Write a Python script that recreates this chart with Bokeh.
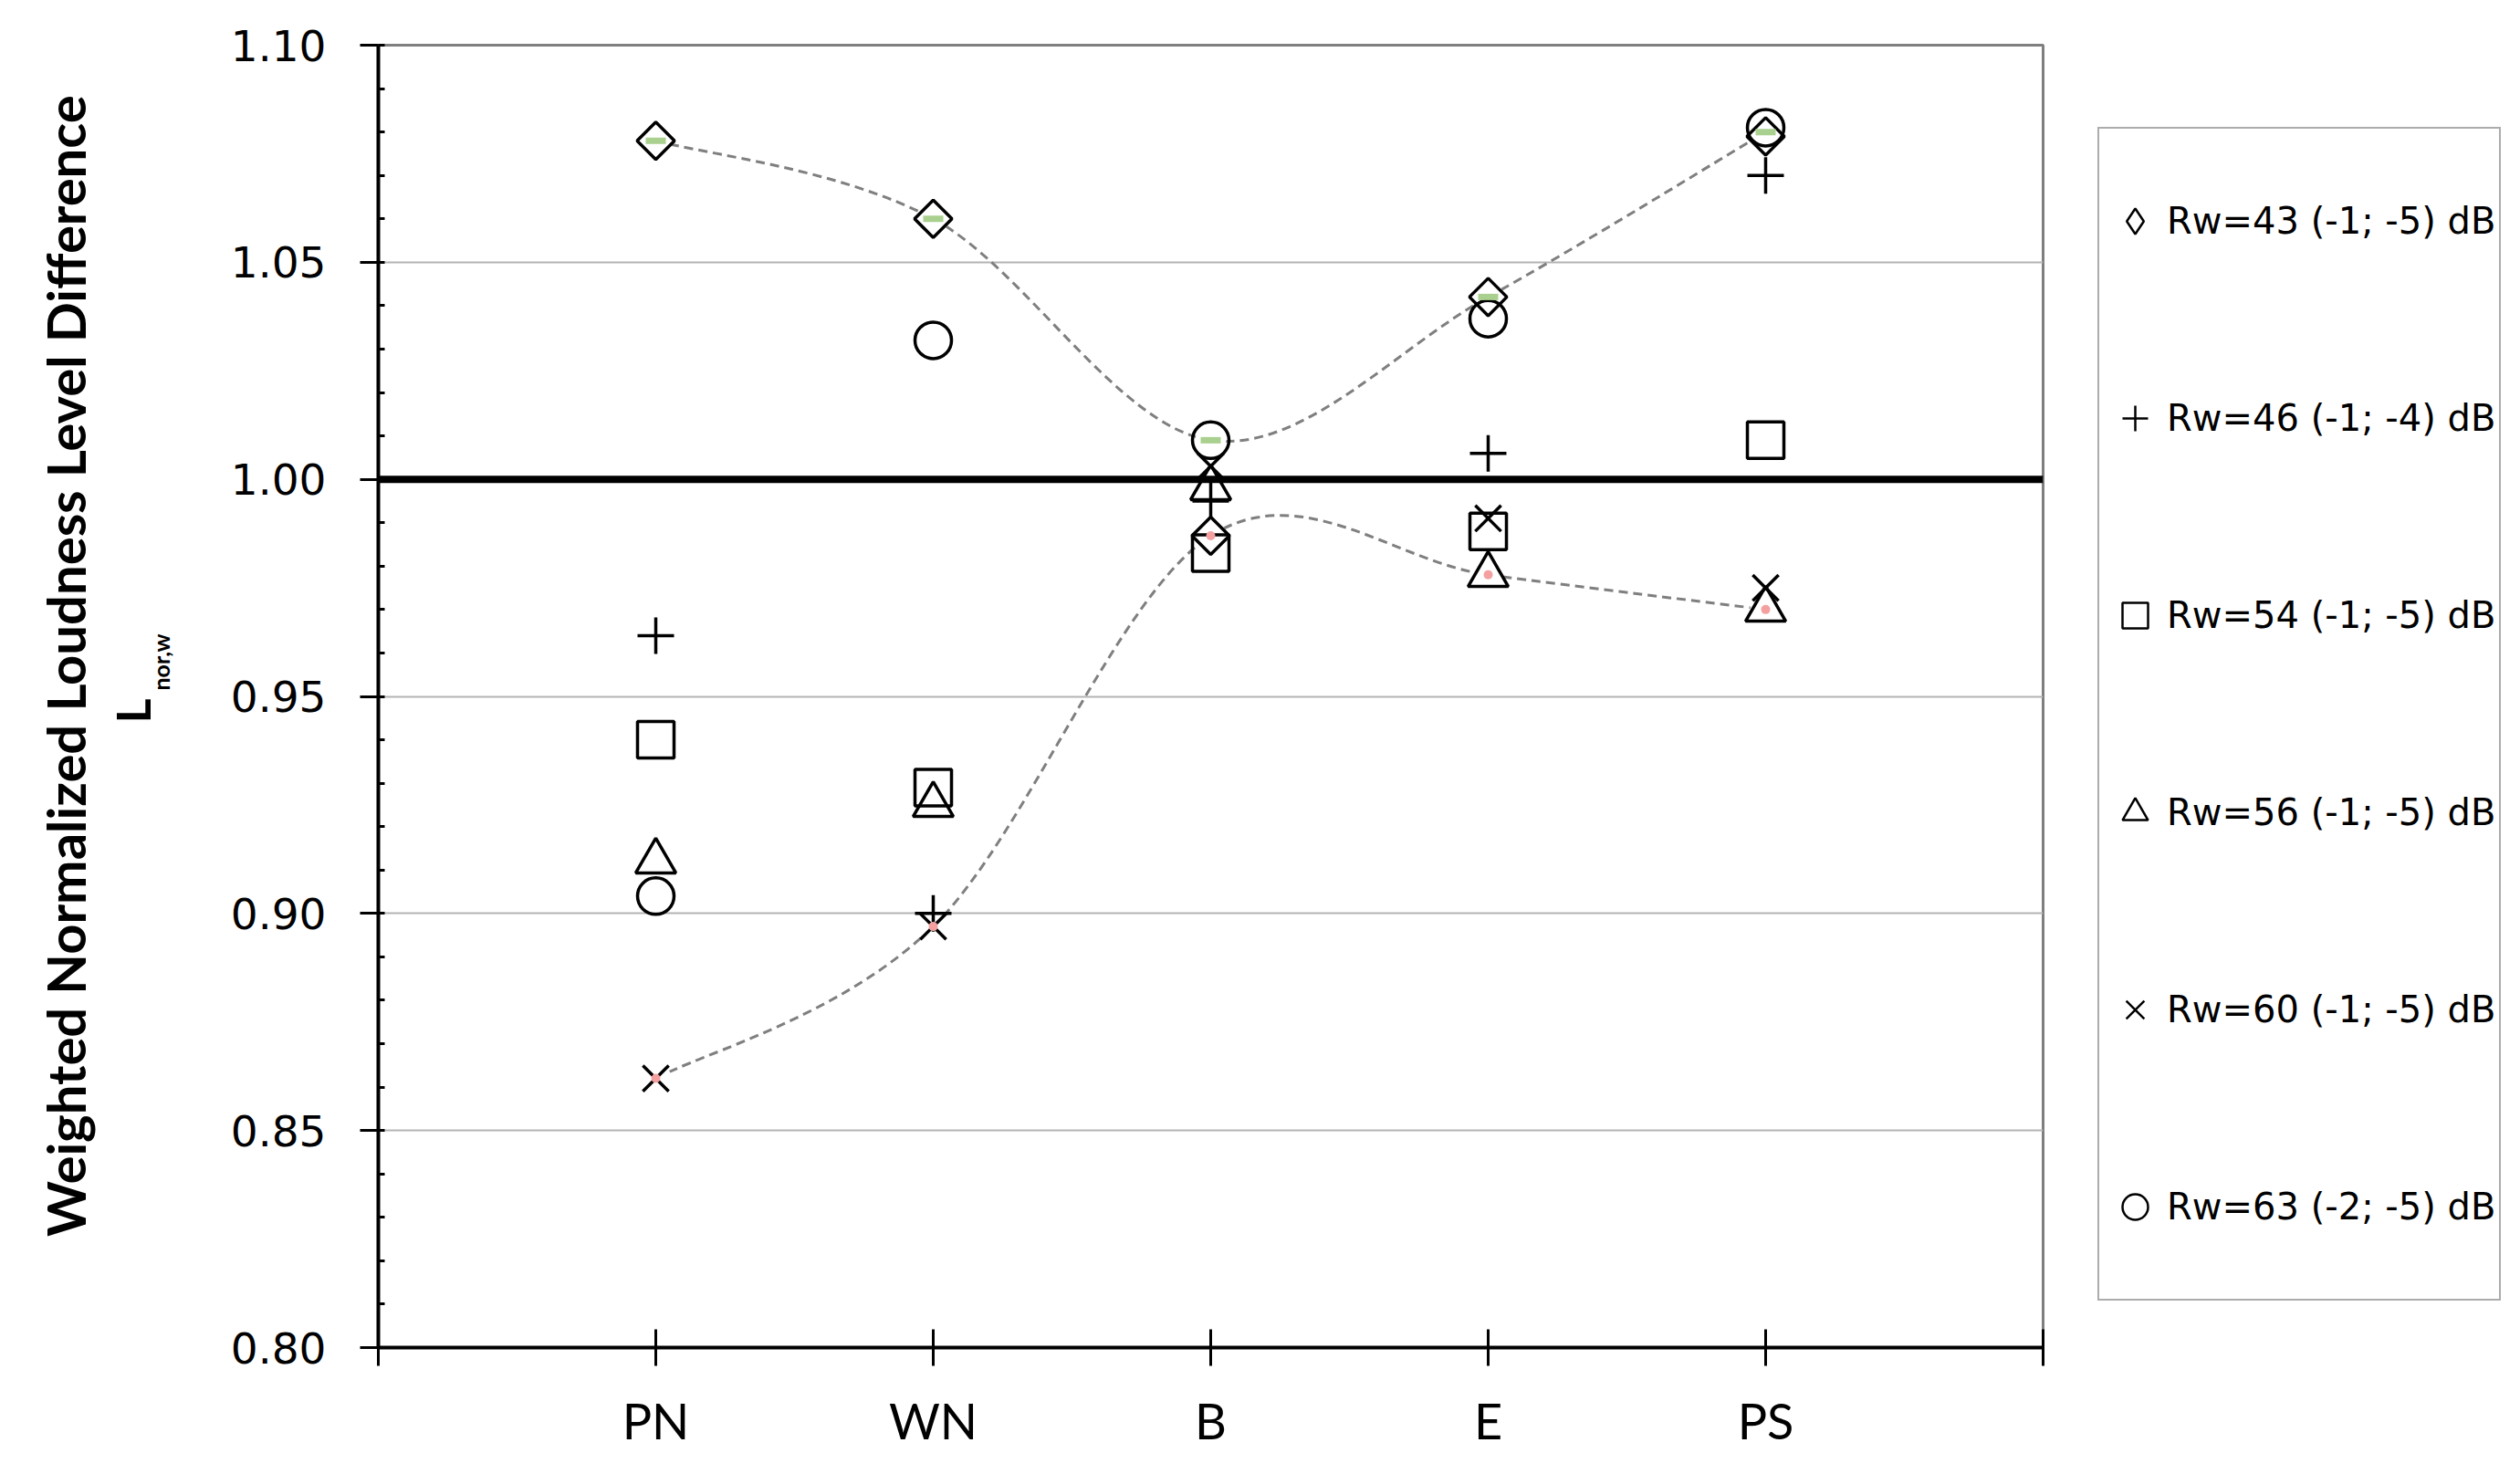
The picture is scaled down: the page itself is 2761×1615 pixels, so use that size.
import numpy as np
from bokeh.plotting import figure
from bokeh.layouts import row
from bokeh.models import (SingleIntervalTicker, FixedTicker, NumeralTickFormatter, Span, Label,
                          Legend, LegendItem, Range1d, ColumnDataSource)
from bokeh.embed import file_html
from bokeh.resources import INLINE

# ---------------- data ----------------
categories = ["PN", "WN", "B", "E", "PS"]
rw43 = [1.078, 1.060, 0.987, 1.042, 1.079]
rw46 = [0.964, 0.900, 0.995, 1.006, 1.070]
rw54 = [0.940, 0.929, 0.983, 0.988, 1.009]
rw56 = [0.912, 0.925, 0.998, 0.978, 0.970]
rw60 = [0.862, 0.897, 1.003, 0.991, 0.975]
rw63 = [0.904, 1.032, 1.009, 1.037, 1.081]
upper_curve = [1.078, 1.060, 1.009, 1.042, 1.080]
lower_curve = [0.862, 0.897, 0.987, 0.978, 0.970]
series_labels = ["Rw=43 (-1; -5) dB", "Rw=46 (-1; -4) dB", "Rw=54 (-1; -5) dB",
                 "Rw=56 (-1; -5) dB", "Rw=60 (-1; -5) dB", "Rw=63 (-2; -5) dB"]
y_min, y_max, y_step = 0.80, 1.10, 0.05
reference_level = 1.00
y_title = "Weighted Normalized  Loudness  Level  Difference"
y_symbol, y_symbol_sub = "L", "nor,w"

NARROW = "Lato"
WIDE = "DejaVu Sans"
H = 1599
W_LEFT, W_MAIN, W_LEG = 240, 2058, 447
FRAME_BOTTOM = 1474   # side strips share the main frame's vertical extent

n = len(categories)
xs = np.arange(1, n + 1)

# ---------------- left strip: y-axis title ----------------
pl = figure(width=W_LEFT, height=H, output_backend="svg", toolbar_location=None,
            x_axis_type=None, y_axis_type=None, min_border=0,
            x_range=Range1d(0, 1), y_range=Range1d(0, 1))
pl.title = None
pl.outline_line_color = None
pl.grid.grid_line_color = None
pl.add_layout(Label(x=71, y=FRAME_BOTTOM - 706, x_units="screen", y_units="screen", text=y_title,
                    angle=np.pi / 2, text_align="center", text_baseline="alphabetic",
                    text_font=NARROW, text_font_size="58px", text_font_style="bold",
                    text_color="black"))
pl.add_layout(Label(x=144, y=FRAME_BOTTOM - 790, x_units="screen", y_units="screen", text=y_symbol,
                    angle=np.pi / 2, text_align="left", text_baseline="alphabetic",
                    text_font=NARROW, text_font_size="52px", text_font_style="bold",
                    text_color="black"))
pl.add_layout(Label(x=175, y=FRAME_BOTTOM - 754, x_units="screen", y_units="screen", text=y_symbol_sub,
                    angle=np.pi / 2, text_align="left", text_baseline="alphabetic",
                    text_font=NARROW, text_font_size="25px", text_font_style="bold",
                    text_color="black"))

# ---------------- main plot ----------------
p = figure(width=W_MAIN, height=H, output_backend="svg", toolbar_location=None,
           x_range=Range1d(0, n + 1), y_range=Range1d(y_min, y_max),
           min_border_left=174, min_border_right=60, min_border_top=49, min_border_bottom=123)
p.title = None
p.background_fill_color = "white"
p.border_fill_color = "white"
p.outline_line_color = "#7f7f7f"
p.outline_line_width = 3

p.xaxis.ticker = FixedTicker(ticks=list(range(0, n + 2)))
p.xaxis.major_label_overrides = {i: (categories[i - 1] if 1 <= i <= n else "") for i in range(0, n + 2)}
p.xaxis.axis_line_color = "black"
p.xaxis.axis_line_width = 4
p.xaxis.major_tick_in = 20
p.xaxis.major_tick_out = 20
p.xaxis.major_tick_line_width = 3
p.xaxis.major_tick_line_color = "black"
p.xaxis.minor_tick_line_color = None
p.xaxis.major_label_text_font = NARROW
p.xaxis.major_label_text_font_size = "54px"
p.xaxis.major_label_text_color = "black"
p.xaxis.major_label_standoff = 27

p.yaxis.ticker = SingleIntervalTicker(interval=y_step, num_minor_ticks=5)
p.yaxis.formatter = NumeralTickFormatter(format="0.00")
p.yaxis.axis_line_color = "black"
p.yaxis.axis_line_width = 4
p.yaxis.major_tick_in = 0
p.yaxis.major_tick_out = 20
p.yaxis.major_tick_line_width = 3
p.yaxis.major_tick_line_color = "black"
p.yaxis.minor_tick_in = 7
p.yaxis.minor_tick_out = 0
p.yaxis.minor_tick_line_width = 3
p.yaxis.minor_tick_line_color = "black"
p.yaxis.major_label_text_font = WIDE
p.yaxis.major_label_text_font_size = "47px"
p.yaxis.major_label_text_color = "black"
p.yaxis.major_label_standoff = 37

p.xgrid.grid_line_color = None
p.ygrid.ticker = SingleIntervalTicker(interval=y_step)
p.ygrid.grid_line_color = "#b3b3b3"
p.ygrid.grid_line_width = 2

p.add_layout(Span(location=reference_level, dimension="width", line_color="black", line_width=8))

# smoothed dashed curves (Excel-like smoothing via Bezier control points from the data)
def bezier_source(vals):
    v = list(vals)
    x = list(xs)
    m = len(v)
    d = dict(x0=[], y0=[], x1=[], y1=[], cx0=[], cy0=[], cx1=[], cy1=[])
    for i in range(m - 1):
        ip, inn = max(i - 1, 0), min(i + 2, m - 1)
        d["x0"].append(x[i]); d["y0"].append(v[i])
        d["x1"].append(x[i + 1]); d["y1"].append(v[i + 1])
        d["cx0"].append(x[i] + (x[i + 1] - x[ip]) / 6.0)
        d["cy0"].append(v[i] + (v[i + 1] - v[ip]) / 6.0)
        d["cx1"].append(x[i + 1] - (x[inn] - x[i]) / 6.0)
        d["cy1"].append(v[i + 1] - (v[inn] - v[i]) / 6.0)
    return ColumnDataSource(d)

for vals in (upper_curve, lower_curve):
    p.bezier(x0="x0", y0="y0", x1="x1", y1="y1", cx0="cx0", cy0="cy0", cx1="cx1", cy1="cy1",
             source=bezier_source(vals), line_color="#7f7f7f", line_width=3, line_dash="10 6")
    p.scatter(xs, vals, marker="circle", size=34, fill_color="white", line_color=None)

series = [rw43, rw46, rw54, rw56, rw60, rw63]
mk = dict(line_color="black", line_width=3.5, fill_color=None)
p.scatter(xs, rw43, marker="square", angle=np.pi / 4, size=29, **mk)
p.scatter(xs, rw46, marker="cross", size=40, **mk)
p.scatter(xs, rw54, marker="square", size=40, **mk)
p.scatter(xs, rw56, marker="triangle", size=44, **mk)
p.scatter(xs, rw60, marker="x", size=40, **mk)
p.scatter(xs, rw63, marker="circle", size=40, **mk)

p.scatter(xs, upper_curve, marker="dash", size=22, line_color="#a9d08e", line_width=7)
p.scatter(xs, lower_curve, marker="circle", size=10, fill_color="#f4a0a0", line_color=None)

# ---------------- right strip: legend ----------------
# the strip's ranges lie away from the data, so its renderers only feed the legend
pr = figure(width=W_LEG, height=H, output_backend="svg", toolbar_location=None,
            x_axis_type=None, y_axis_type=None, min_border=0,
            x_range=Range1d(-20, -19), y_range=Range1d(-20, -19))
pr.title = None
pr.outline_line_color = None
pr.grid.grid_line_color = None
lk = dict(line_color="black", line_width=2.5, fill_color=None)
legend_markers = ["diamond", "cross", "square", "triangle", "x", "circle"]
leg_renderers = [pr.scatter(xs, s, marker=m, **lk) for m, s in zip(legend_markers, series)]
legend = Legend(items=[LegendItem(label=lab, renderers=[r]) for lab, r in zip(series_labels, leg_renderers)],
                location=(0, FRAME_BOTTOM - 1423), padding=4, spacing=22, margin=0,
                glyph_width=70, glyph_height=194, label_height=194, label_standoff=0,
                label_text_font=WIDE, label_text_font_size="40px", label_text_color="black",
                border_line_color="#595959", border_line_width=2,
                background_fill_color="white", background_fill_alpha=1.0)
pr.add_layout(legend, "center")

open("out.html", "w").write(file_html(row(pl, p, pr), INLINE))
